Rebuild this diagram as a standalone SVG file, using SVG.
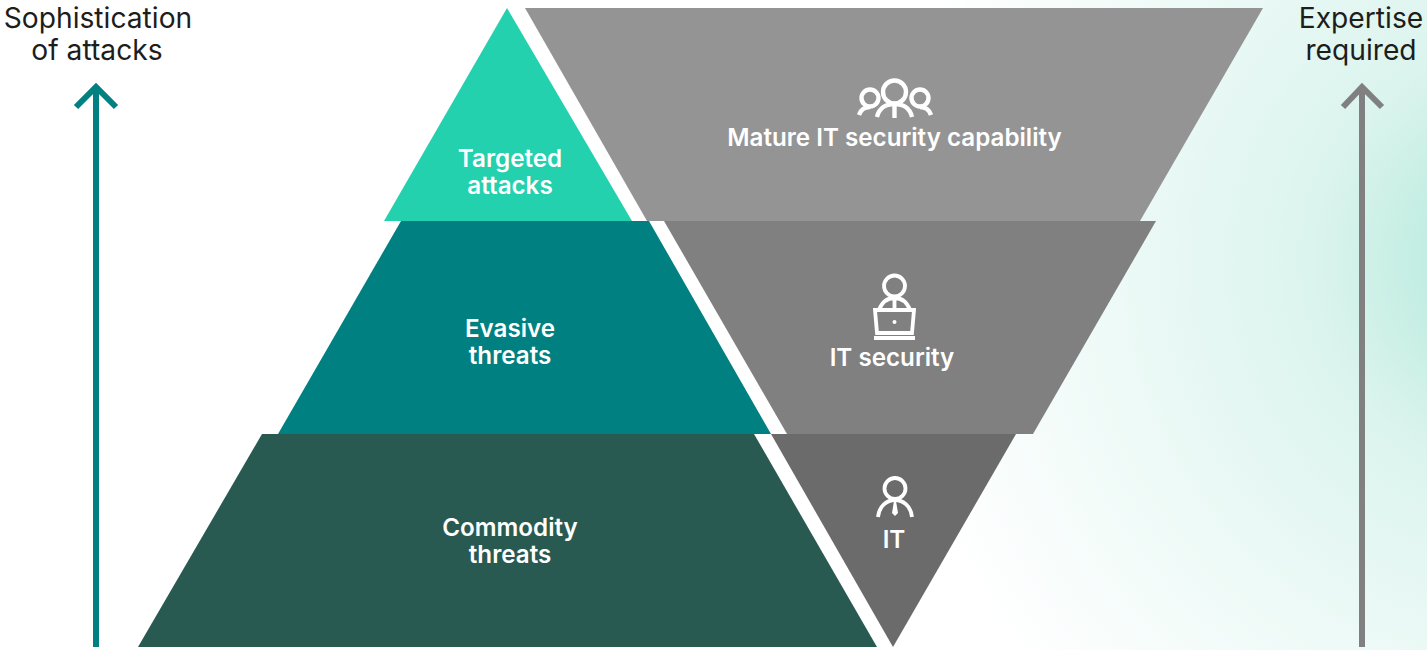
<svg xmlns="http://www.w3.org/2000/svg" width="1427" height="650" viewBox="0 0 1427 650">
<style>
.lab{font-family:Inter,"Liberation Sans",sans-serif;font-size:28.2px;fill:#1d1d1b;text-anchor:middle}
.w{font-family:Inter,"Liberation Sans",sans-serif;font-size:24.2px;font-weight:600;fill:#fff;text-anchor:middle}
.ic{fill:none;stroke:#fff;stroke-width:3.8}
</style>
<defs>
<radialGradient id="bg" gradientUnits="userSpaceOnUse" cx="1530" cy="260" r="650">
<stop offset="0" stop-color="#b5e9dc"/><stop offset="0.16" stop-color="#c2ede2"/><stop offset="0.34" stop-color="#dcf4ee"/><stop offset="0.66" stop-color="#eefaf7"/><stop offset="1" stop-color="#fff"/>
</radialGradient>
</defs>
<rect width="1427" height="650" fill="#fff"/>
<rect x="850" width="577" height="650" fill="url(#bg)"/>
<g id="pyr-targeted"><polygon points="507,8 632,221 384,221" fill="#23d1ae"/><text class="w" x="510" y="167">Targeted</text><text class="w" x="510" y="194">attacks</text></g>
<g id="pyr-evasive"><polygon points="401,221 649,221 771,434 278,434" fill="#008080"/><text class="w" x="510" y="337">Evasive</text><text class="w" x="510" y="364">threats</text></g>
<g id="pyr-commodity"><polygon points="262,434 754,434 877,647 138,647" fill="#285a52"/><text class="w" x="510" y="536">Commodity</text><text class="w" x="510" y="563">threats</text></g>
<g id="inv-mature"><polygon points="525,8 1263,8 1140,221 647,221" fill="#949494"/>
<g class="ic" stroke-width="4.4" style="stroke-width:4.400"><circle cx="894.500" cy="92" r="11.500"/><circle cx="870" cy="98" r="8.500"/><circle cx="920" cy="98" r="8.500"/><path d="M859,115C861,109 865,107 870,107M931,115C929,109 925,107 920,107M877,117C879,108 886,104 894.500,104C903,104 910,108 912,117M894.500,104V118"/></g>
<text class="w" x="894.500" y="146">Mature IT security capability</text></g>
<g id="inv-security"><polygon points="664,221 1156,221 1033,434 787,434" fill="#808080"/>
<g class="ic"><circle cx="894.500" cy="286" r="10.500"/><path d="M879,310C882,302 888,298 894.500,298C901,298 907,302 910,310M894.500,298V310M875,310H914L912,333H877Z"/><path d="M874,338H915"/></g><circle cx="894.500" cy="322" r="2" fill="#fff"/>
<text class="w" x="892" y="366">IT security</text></g>
<g id="inv-it"><polygon points="771,434 1016,434 893,647" fill="#6b6b6b"/>
<g class="ic"><circle cx="895" cy="488.500" r="10.500"/><path d="M878,517C879,506 887,500 895,500C903,500 911,506 912,517"/></g><path d="M894,501H896L898,513L895,516L892,513Z" fill="#fff"/>
<text class="w" x="894" y="548">IT</text></g>
<g id="connectors" fill="none" stroke-width="6">
<path d="M96,647V87M76,107L96,87L116,107" stroke="#008080"/>
<path d="M1362,647V87M1343,107L1362,87L1382,107" stroke="#808080"/>
</g>
<text class="lab" x="98" y="28">Sophistication</text><text class="lab" x="97" y="60">of attacks</text>
<text class="lab" x="1361" y="28">Expertise</text><text class="lab" x="1361" y="60">required</text>
</svg>
